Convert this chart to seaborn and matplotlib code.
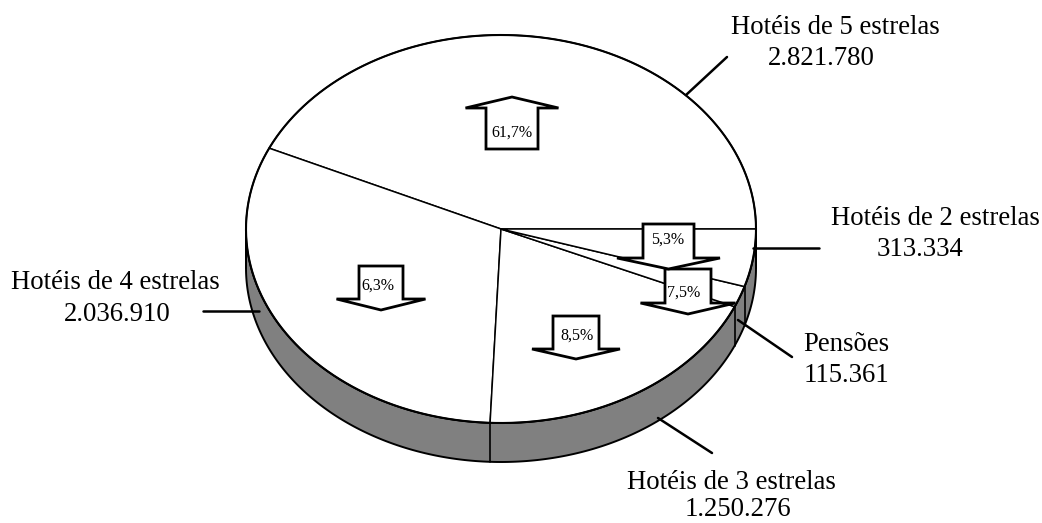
import numpy as np
import matplotlib
matplotlib.use("Agg")
import matplotlib.pyplot as plt
from matplotlib.patches import Polygon
import seaborn as sns

# ---------------- data ----------------
categories = ["Hotéis de 5 estrelas", "Hotéis de 4 estrelas", "Hotéis de 3 estrelas",
              "Pensões", "Hotéis de 2 estrelas"]
values = [2821780, 2036910, 1250276, 115361, 313334]
growth_labels = ["61,7%", "6,3%", "8,5%", "7,5%", "5,3%"]
growth_dir = ["up", "down", "down", "down", "down"]

# ---------------- layout ----------------
W, H = 1042, 523
CX, CY, RX, RY, DEPTH = 501, 229, 255, 194, 39
SIDE_COLOR = "#808080"
FONT = "Liberation Serif"

# label layout: (line1 center x, line1 baseline y, line2 center x, line2 baseline y, leader start, leader end)
label_layout = [
    (835, 34, 821, 65, (686, 95), (727, 57)),
    (115, 289, 117, 321, (259, 311), (203, 311)),
    (731, 489, 738, 516, (658, 418), (712, 453)),
    (846, 351, 846, 382, (738, 320), (792, 357)),
    (935, 225, 920, 256, (753, 248), (819, 248)),
]
# arrow layout: (center x, head base y, shaft half width, head half width, shaft len, head h, text x, text y)
arrow_layout = [
    (512, 108, 26, 46.5, 41, 11, 512, 133),
    (381, 299, 22, 44.5, 33, 11, 378, 286),
    (576, 349, 23, 44, 33, 10, 577, 336),
    (688, 303, 23, 47.5, 34, 11, 684, 293),
    (668.5, 258, 25.5, 51.5, 34, 11, 668, 240),
]

sns.set_theme(style="white")
plt.rcParams["font.family"] = [FONT, "DejaVu Serif"]

fig = plt.figure(figsize=(W / 100, H / 100), dpi=100)
ax = fig.add_axes([0, 0, 1, 1])
ax.set_xlim(0, W)
ax.set_ylim(H, 0)
ax.axis("off")


def pt(t_deg, dy=0.0):
    t = np.radians(t_deg)
    return CX + RX * np.cos(t), CY - RY * np.sin(t) + dy


# angles from values (counter-clockwise starting at 0 deg)
vals = np.array(values, dtype=float)
fracs = vals / vals.sum()
bounds = np.concatenate([[0.0], np.cumsum(fracs) * 360.0])

# side (front half, 180..360)
ts = np.linspace(180, 360, 300)
top_arc = np.array([pt(t) for t in ts])
bot_arc = np.array([pt(t, DEPTH) for t in ts[::-1]])
side = Polygon(np.vstack([top_arc, bot_arc]), closed=True, facecolor=SIDE_COLOR,
               edgecolor="black", lw=1.4, zorder=1)
ax.add_patch(side)
for b in bounds[1:-1]:
    if 180 < b < 360:
        x0, y0 = pt(b)
        ax.plot([x0, x0], [y0, y0 + DEPTH], color="black", lw=1.2, zorder=2)
for b in (180, 360):
    x0, y0 = pt(b)
    ax.plot([x0, x0], [y0, y0 + DEPTH], color="black", lw=1.4, zorder=2)

# top slices
for i in range(len(values)):
    a0, a1 = bounds[i], bounds[i + 1]
    n = max(int((a1 - a0) * 3), 4)
    arc = np.array([pt(t) for t in np.linspace(a0, a1, n)])
    poly = np.vstack([[CX, CY], arc])
    ax.add_patch(Polygon(poly, closed=True, facecolor="white", edgecolor="black",
                         lw=1.1, zorder=3))
# outline of top ellipse
full = np.array([pt(t) for t in np.linspace(0, 360, 600)])
ax.plot(full[:, 0], full[:, 1], color="black", lw=1.5, zorder=4)

# block arrows with growth rates
for i, lab in enumerate(growth_labels):
    cx, by, sw, hw, sl, hh, tx, ty = arrow_layout[i]
    s = -1 if growth_dir[i] == "up" else 1  # direction in screen coords
    shaft_end = by - s * sl
    tip = by + s * hh
    pts = [(cx - sw, shaft_end), (cx + sw, shaft_end), (cx + sw, by), (cx + hw, by),
           (cx, tip), (cx - hw, by), (cx - sw, by)]
    ax.add_patch(Polygon(pts, closed=True, facecolor="white", edgecolor="black",
                         lw=2.0, joinstyle="miter", zorder=5))
    ax.text(tx, ty, lab, ha="center", va="center", fontsize=11.5, color="black",
            zorder=6)

# labels + leader lines
for i, cat in enumerate(categories):
    x1, y1, x2, y2, p0, p1 = label_layout[i]
    ax.text(x1, y1, cat, ha="center", va="baseline", fontsize=19.3, color="black",
            zorder=6)
    ax.text(x2, y2, f"{values[i]:,}".replace(",", "."), ha="center", va="baseline",
            fontsize=19.3, color="black", zorder=6)
    ax.plot([p0[0], p1[0]], [p0[1], p1[1]], color="black", lw=1.8, zorder=6)

fig.savefig("out.png", dpi=100, facecolor="white")
